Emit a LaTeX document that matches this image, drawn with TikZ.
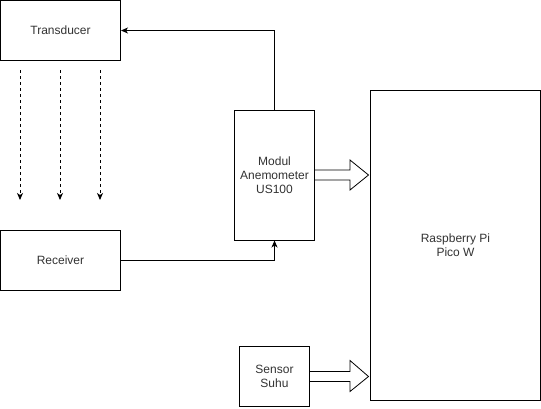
\documentclass[tikz,border=0pt]{standalone}
\usepackage{fontspec}
\setmainfont{Liberation Sans}
\usetikzlibrary{arrows.meta,calc}
\begin{document}
\begin{tikzpicture}[x=1pt,y=-1pt,
  box/.style={draw, line width=1pt, fill=white, inner sep=0pt, align=center,
    font=\fontsize{12}{14}\selectfont, text=black!80},
  conn/.style={line width=1pt, -{Stealth[length=7pt,width=6pt,inset=2pt]}},
  dconn/.style={line width=1pt, dashed, dash pattern=on 3pt off 3pt, -{Stealth[length=7pt,width=6pt,inset=2pt]}},
  blockarrow/.style={draw, line width=0.8pt, fill=white, line join=miter}
]
\useasboundingbox (0,0) rectangle (541,408);
\node[box, minimum width=120pt, minimum height=60pt] (t) at (60.5,30.5) {Transducer};
\node[box, minimum width=120pt, minimum height=60pt] (r) at (60.5,260.5) {Receiver};
\node[box, minimum width=80pt, minimum height=130pt] (m) at (274.5,175) {Modul\\Anemometer\\US100};
\node[box, minimum width=170pt, minimum height=310pt] (p) at (455.5,245.5) {Raspberry Pi\\Pico W};
\node[box, minimum width=70pt, minimum height=60pt] (s) at (274.5,376.5) {Sensor\\Suhu};
% dashed arrows
\foreach \i/\x in {1/20,2/60,3/100}{
  \coordinate (ds\i) at (\x,70);
  \coordinate (de\i) at (\x,200);
  \draw[dconn] (ds\i) -- (de\i);
}
% connectors
\draw[conn] (m.north) |- (t.east);
\draw[conn] (r.east) -| (m.south);
% block arrows
\path[blockarrow] ($(m.east)+(0,-5)$) -- ($(m.east)+(35,-5)$) -- ($(m.east)+(35,-15)$)
  -- ($(p.west |- m.east)+(-1.5,0)$) -- ($(m.east)+(35,15)$) -- ($(m.east)+(35,5)$)
  -- ($(m.east)+(0,5)$);
\path[blockarrow] ($(s.east)+(0,-5)$) -- ($(s.east)+(40,-5)$) -- ($(s.east)+(40,-16)$)
  -- ($(p.west |- s.east)+(-1.5,0)$) -- ($(s.east)+(40,15)$) -- ($(s.east)+(40,5)$)
  -- ($(s.east)+(0,5)$);
\end{tikzpicture}
\end{document}
